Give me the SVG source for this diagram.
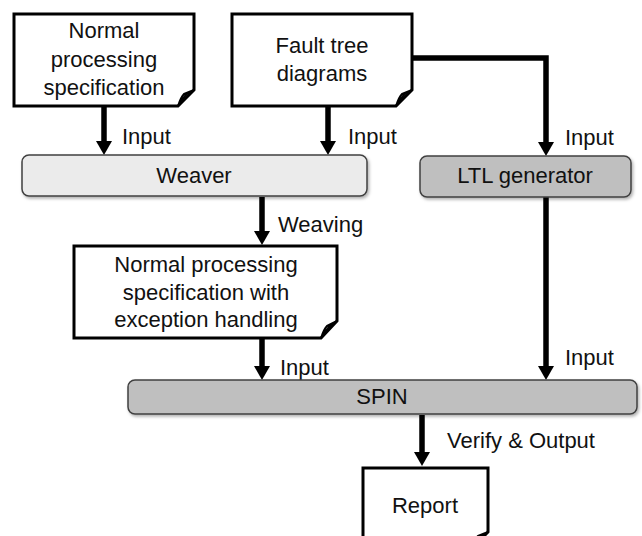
<svg xmlns="http://www.w3.org/2000/svg" width="642" height="536" viewBox="0 0 642 536">
<style>
text{font-family:"Liberation Sans",Arial,sans-serif;font-size:22px;fill:#111}
.c{text-anchor:middle}
.doc{fill:#fff;stroke:#000;stroke-width:3;stroke-linejoin:miter}
.fold{fill:#cfcfcf;stroke:#000;stroke-width:2;stroke-linejoin:round}
.proc{stroke:#404040;stroke-width:1.5}
.light{fill:#ebebeb}
.dark{fill:#bfbfbf}
.conn{fill:none;stroke:#000;stroke-width:5.5}
</style>
<defs>
<filter id="sh" x="-5%" y="-20%" width="110%" height="150%">
<feDropShadow dx="1.5" dy="2" stdDeviation="1.5" flood-color="#000" flood-opacity="0.3"/>
</filter>
<marker id="ah" viewBox="0 0 14 16" refX="1" refY="8" markerWidth="14" markerHeight="16" markerUnits="userSpaceOnUse" orient="auto">
<path d="M0,0 L14,8 L0,16 Z" fill="#000"/>
</marker>
</defs>

<g id="connectors">
<path class="conn" d="M104,106 V142" marker-end="url(#ah)"/>
<path class="conn" d="M328,106 V142" marker-end="url(#ah)"/>
<path class="conn" d="M412,58 H546 V143" marker-end="url(#ah)"/>
<path class="conn" d="M262,197 V232" marker-end="url(#ah)"/>
<path class="conn" d="M262,339 V367" marker-end="url(#ah)"/>
<path class="conn" d="M546,197 V367" marker-end="url(#ah)"/>
<path class="conn" d="M422,415 V453" marker-end="url(#ah)"/>
<text x="122" y="144">Input</text>
<text x="348" y="144">Input</text>
<text x="565" y="145">Input</text>
<text x="278" y="232">Weaving</text>
<text x="280" y="375">Input</text>
<text x="565" y="365">Input</text>
<text x="447" y="448">Verify &amp; Output</text>
</g>

<g id="doc-normal">
<path class="doc" d="M14,14 H194 V90 L178,106 H14 Z"/>
<path class="fold" d="M178,106 C180,100 182,96 184,94 L194,90 C188,92 186,94 178,106 Z"/>
<text class="c" x="104" y="38">Normal</text>
<text class="c" x="104" y="67">processing</text>
<text class="c" x="104" y="95">specification</text>
</g>

<g id="doc-fault">
<path class="doc" d="M232,14 H412 V90 L396,106 H232 Z"/>
<path class="fold" d="M396,106 C398,100 400,96 402,94 L412,90 C406,92 404,94 396,106 Z"/>
<text class="c" x="322" y="53">Fault tree</text>
<text class="c" x="322" y="81">diagrams</text>
</g>

<g id="weaver">
<rect class="proc light" x="22" y="155" width="345" height="41" rx="7" filter="url(#sh)"/>
<text class="c" x="194" y="183">Weaver</text>
</g>

<g id="ltl">
<rect class="proc dark" x="420" y="156" width="211" height="41" rx="7" filter="url(#sh)"/>
<text class="c" x="525" y="183">LTL generator</text>
</g>

<g id="doc-exception">
<path class="doc" d="M74,246 H337 V321 L321,338 H74 Z"/>
<path class="fold" d="M321,338 C323,332 325,328 327,326 L337,321 C331,324 329,326 321,338 Z"/>
<text class="c" x="206" y="272">Normal processing</text>
<text class="c" x="206" y="300">specification with</text>
<text class="c" x="206" y="327">exception handling</text>
</g>

<g id="spin">
<rect class="proc dark" x="128" y="380" width="509" height="34" rx="7" filter="url(#sh)"/>
<text class="c" x="382" y="404">SPIN</text>
</g>

<g id="report">
<path class="doc" d="M363,468 H488 V532 L472,548 H363 Z"/>
<path class="fold" d="M472,548 C474,542 476,538 478,536 L488,532 C482,535 480,537 472,548 Z"/>
<text class="c" x="425" y="513">Report</text>
</g>
</svg>
